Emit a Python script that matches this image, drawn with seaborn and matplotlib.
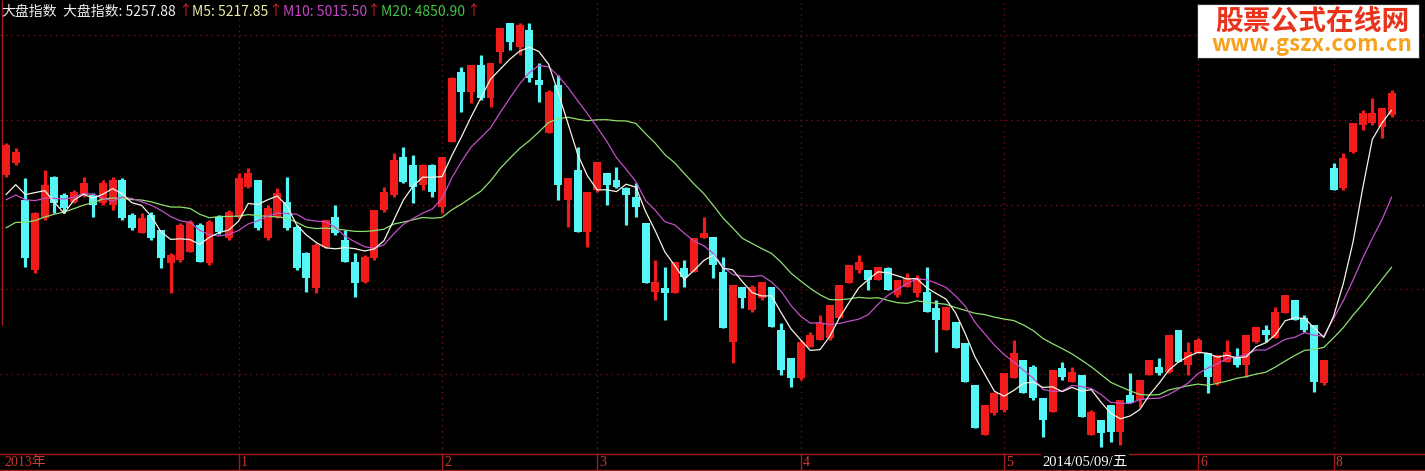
import numpy as np
import pandas as pd
import matplotlib
matplotlib.use("Agg")
import matplotlib.pyplot as plt
from matplotlib.patches import Rectangle
import seaborn as sns

# ---------------- data (index points) ----------------
open_ = [5062.5, 5092.5, 5000, 4825, 4955, 5057.5, 5012.5, 4995, 5012.5, 5012.5,
         4992.5, 4987.5, 5050, 4962.5, 4917.5, 4962.5, 4925, 4842.5, 4850, 4870,
         4937.5, 4842.5, 4957.5, 4905, 4957.5, 5032.5, 5050, 4905, 4957.5, 4995,
         4932.5, 4867.5, 4780, 4882.5, 4957.5, 4900, 4845, 4795, 4855, 4975,
         5012.5, 5107.5, 5087.5, 5037.5, 5087.5, 4982.5, 5145, 5320, 5270, 5337.5,
         5255, 5370, 5442.5, 5382.5, 5425, 5300, 5167.5, 5287.5, 5000, 5075,
         4920, 5025, 5067.5, 5050, 5030, 5007.5, 4942.5, 4770, 4780, 4767.5,
         4830, 4820, 4905, 4907.5, 4820, 4645, 4782.5, 4725, 4755, 4782.5,
         4675, 4605, 4555, 4632.5, 4650, 4655, 4705, 4792.5, 4825, 4825,
         4800, 4830, 4762.5, 4782.5, 4767.5, 4770, 4730, 4675, 4695, 4642.5,
         4537.5, 4412.5, 4467.5, 4475, 4555, 4600, 4582.5, 4505, 4470, 4580,
         4545, 4562.5, 4412.5, 4450, 4487.5, 4420, 4512.5, 4500, 4562.5, 4582.5,
         4570, 4675, 4587.5, 4617.5, 4617.5, 4542.5, 4595, 4605, 4587.5, 4645,
         4675, 4655, 4717.5, 4750, 4705, 4687.5, 4542.5, 5080, 5030, 5120,
         5187.5, 5192.5, 5182.5, 5212.5]

close = [5137.5, 5120, 4855, 4967.5, 5037.5, 4992.5, 4980, 5020, 5042.5, 4987.5,
         5042.5, 5050, 4955, 4930, 4955, 4905, 4855, 4862.5, 4937.5, 4945,
         4845, 4945, 4920, 4970, 5055, 5067.5, 4930, 4980, 5017.5, 4930,
         4830, 4805, 4887.5, 4950, 4917.5, 4845, 4792.5, 4857.5, 4975, 5020,
         5100, 5045, 5032.5, 5087.5, 5020, 5107.5, 5305, 5270, 5337.5, 5255,
         5342.5, 5430, 5395, 5437.5, 5305, 5287.5, 5270, 5037.5, 5055, 4920,
         5020, 5095, 5037.5, 5032.5, 5012.5, 4982.5, 4792.5, 4795, 4767.5, 4845,
         4807.5, 4905, 4917.5, 4837.5, 4680, 4787.5, 4755, 4782.5, 4795, 4682.5,
         4575, 4555, 4645, 4662.5, 4692.5, 4737.5, 4787.5, 4837.5, 4845, 4800,
         4832.5, 4775, 4800, 4805, 4805, 4720, 4700, 4732.5, 4630, 4545,
         4430, 4487.5, 4517.5, 4567.5, 4617.5, 4517.5, 4505, 4450, 4575, 4557.5,
         4570, 4457.5, 4470, 4417.5, 4420, 4500, 4492.5, 4550, 4600, 4567.5,
         4662.5, 4595, 4620, 4650, 4557.5, 4612.5, 4620, 4587.5, 4662.5, 4682.5,
         4662.5, 4720, 4762.5, 4700, 4675, 4545, 4600, 5025, 5105, 5192.5,
         5217.5, 5217.5, 5230, 5267.5]

high = [5142.5, 5130, 5055, 4970, 5075, 5060, 5017.5, 5025, 5057.5, 5017.5,
        5050, 5057.5, 5055, 4967.5, 4967.5, 4970, 4925, 4867.5, 4942.5, 4950,
        4942.5, 4950, 4962.5, 4975, 5067.5, 5080, 5050, 4987.5, 5030, 5057.5,
        4937.5, 4870, 4892.5, 4950, 4987.5, 4925, 4867.5, 4862.5, 4975, 5032.5,
        5117.5, 5132.5, 5112.5, 5090, 5090, 5107.5, 5307.5, 5332.5, 5337.5, 5362.5,
        5342.5, 5430, 5442.5, 5442.5, 5442.5, 5342.5, 5275, 5312.5, 5055, 5132.5,
        5020, 5095, 5067.5, 5082.5, 5032.5, 5042.5, 4942.5, 4850, 4832.5, 4845,
        4850, 4905, 4957.5, 4907.5, 4857.5, 4787.5, 4782.5, 4787.5, 4795, 4782.5,
        4692.5, 4605, 4650, 4670, 4712.5, 4737.5, 4787.5, 4837.5, 4862.5, 4825,
        4832.5, 4832.5, 4800, 4817.5, 4812.5, 4832.5, 4750, 4732.5, 4695, 4642.5,
        4537.5, 4487.5, 4520, 4567.5, 4650, 4600, 4587.5, 4505, 4575, 4595,
        4582.5, 4562.5, 4475, 4450, 4487.5, 4500, 4567.5, 4550, 4600, 4605,
        4662.5, 4675, 4645, 4655, 4617.5, 4612.5, 4650, 4630, 4662.5, 4682.5,
        4687.5, 4732.5, 4762.5, 4750, 4712.5, 4687.5, 4600, 5092.5, 5117.5, 5192.5,
        5225, 5255, 5230, 5275]

low = [5057.5, 5087.5, 4832.5, 4817.5, 4950, 4967.5, 4967.5, 4992.5, 5007.5, 4957.5,
       4987.5, 4975, 4950, 4925, 4917.5, 4900, 4830, 4767.5, 4845, 4870,
       4845, 4837.5, 4915, 4900, 4955, 5030, 4925, 4900, 4955, 4925,
       4825, 4770, 4767.5, 4880, 4912.5, 4845, 4757.5, 4792.5, 4850, 4970,
       5007.5, 5042.5, 4992.5, 5025, 5007.5, 4967.5, 5145, 5220, 5242.5, 5250,
       5232.5, 5342.5, 5375, 5362.5, 5295, 5245, 5167.5, 5000, 4932.5, 4920,
       4882.5, 5020, 4987.5, 5030, 4937.5, 4957.5, 4792.5, 4750, 4700, 4767.5,
       4782.5, 4820, 4905, 4805, 4680, 4592.5, 4730, 4720, 4750, 4682.5,
       4562.5, 4532.5, 4550, 4632.5, 4650, 4650, 4705, 4792.5, 4817.5, 4775,
       4800, 4775, 4757.5, 4782.5, 4757.5, 4720, 4620, 4675, 4630, 4545,
       4430, 4412.5, 4462.5, 4470, 4555, 4517.5, 4500, 4407.5, 4470, 4550,
       4545, 4457.5, 4412.5, 4382.5, 4395, 4387.5, 4492.5, 4482.5, 4562.5, 4562.5,
       4567.5, 4595, 4562.5, 4617.5, 4517.5, 4537.5, 4595, 4582.5, 4557.5, 4642.5,
       4645, 4655, 4717.5, 4700, 4670, 4520, 4537.5, 5025, 5025, 5117.5,
       5175, 5187.5, 5155, 5207.5]

# closes before the first visible bar (feed the moving averages)
prior_close = [4845, 4855, 4875, 4862.5, 4850, 4870, 4855, 4865, 4860, 4862.5,
               5000, 4975, 4987.5, 4980, 4995, 4995, 4980, 4942.5, 5012.5]

month_labels = ["2013年", "1", "2", "3", "4", "5", "6", "8"]
month_starts = [0, 24, 45, 61, 82, 103, 123, 137]
cursor_label = "2014/05/09/五"
cursor_bar = 107
header_items = [("大盘指数", "w"), ("大盘指数: 5257.88", "w"), ("↑", "r"),
                ("M5: 5217.85", "m5"), ("↑", "r"), ("M10: 5015.50", "m10"), ("↑", "r"),
                ("M20: 4850.90", "m20"), ("↑", "r")]
watermark_title = "股票公式在线网"
watermark_url = "www.gszx.com.cn"

# ---------------- style ----------------
sns.set_theme(style="dark")
plt.rcParams['font.family'] = ['Noto Sans CJK SC', 'DejaVu Sans']
plt.rcParams['axes.unicode_minus'] = False

RED = "#f01c1c"
CYAN = "#54f6f6"
GRID = "#7a1414"
AXIS = "#a01c1c"
LABEL = "#c83a30"
COL = {"w": "#f0f0f0", "r": "#e02020", "m5": "#ececa8", "m10": "#c844c8", "m20": "#44c444"}

W, H = 1425, 471
STEP = 9.69           # pixels per bar
X0 = -0.62            # data x at the left edge
Y_TOP, Y_PER_PX = 5500.0, 2.5


def px_x(px):
    return X0 + px / STEP


def px_y(py):
    return Y_TOP - Y_PER_PX * py


fig = plt.figure(figsize=(W / 100, H / 100), dpi=100, facecolor="black")
ax = fig.add_axes([0, 0, 1, 1])
ax.set_facecolor("black")

n = min(len(open_), len(close), len(high), len(low))
o = np.array(open_[:n], float)
c = np.array(close[:n], float)
h = np.array(high[:n], float)
l = np.array(low[:n], float)
idx = np.arange(n)

# moving averages
allc = pd.Series(list(prior_close) + list(c))
df = pd.DataFrame({
    "i": idx,
    "MA5": allc.rolling(5, min_periods=1).mean().to_numpy()[-n:],
    "MA10": allc.rolling(10, min_periods=1).mean().to_numpy()[-n:],
    "MA20": allc.rolling(20, min_periods=1).mean().to_numpy()[-n:],
})

# grid (dotted)
for gy in [35, 120, 205, 289, 374]:
    ax.axhline(px_y(gy), color=GRID, lw=1.0, ls=(0, (1, 3)), zorder=1)
ax.vlines(month_starts[1:], px_y(454), px_y(0), colors=GRID, lw=1.0,
          linestyles=(0, (1, 3)), zorder=1)

# candles
up = c >= o
colors = np.where(up, RED, CYAN)
ax.vlines(idx, l, h, colors=colors, lw=2.3, zorder=3)
body_bottom = np.minimum(o, c)
body_h = np.maximum(np.abs(c - o), 3.5)
ax.bar(idx, body_h, bottom=body_bottom, width=0.82, color=colors, linewidth=0, zorder=4)

# MA lines
sns.lineplot(data=df, x="i", y="MA20", ax=ax, color="#8ee070", lw=0.9, zorder=5, legend=False)
sns.lineplot(data=df, x="i", y="MA10", ax=ax, color="#c050c8", lw=0.9, zorder=5, legend=False)
sns.lineplot(data=df, x="i", y="MA5", ax=ax, color="#f4f4e4", lw=0.9, zorder=6, legend=False)

# axis band
ax.axhline(px_y(454), color=AXIS, lw=1.0, zorder=2)
ax.axhline(px_y(470), color=AXIS, lw=1.0, zorder=2)
ax.vlines(month_starts[1:], px_y(470), px_y(454), colors=AXIS, lw=1.0, zorder=2)
ax.vlines([px_x(1.5)], px_y(325), px_y(0), colors=AXIS, lw=1.0, zorder=2)
for lab, ms in zip(month_labels, month_starts):
    xx = ms + 0.25 if ms > 0 else px_x(4)
    ax.text(xx, px_y(462.5), lab, color=LABEL, fontsize=10, ha="left", va="center",
            family=["Liberation Serif", "Noto Sans CJK SC"], zorder=7)

ax.text(cursor_bar - 0.03, px_y(462), cursor_label, color="white", fontsize=10.5,
        ha="left", va="center", family=["Liberation Serif", "Noto Sans CJK SC"], zorder=8,
        bbox=dict(boxstyle="square,pad=0.1", fc="black", ec="none"))

ax.set_xlim(X0, X0 + W / STEP)
ax.set_ylim(px_y(H), px_y(0))
ax.set_axis_off()

# header
xpos = [1, 63, 178, 192, 268, 283, 366, 381, 466]
for (txt, ck), xp in zip(header_items, xpos):
    fig.text(xp / W, 1 - 11.5 / H, txt, color=COL[ck], fontsize=10, ha="left", va="center")

# watermark box
fig.patches.append(Rectangle((1197 / W, 1 - 58 / H), 222 / W, 54 / H, transform=fig.transFigure,
                             facecolor="white", edgecolor="#303030", lw=0.8, zorder=10))
fig.text(1312 / W, 1 - 21 / H, watermark_title, color="#e8341c", fontsize=20, fontweight="bold",
         ha="center", va="center", zorder=11)
fig.text(1312 / W, 1 - 44 / H, watermark_url, color="#f5a21e", fontsize=16, fontweight="bold",
         ha="center", va="center", zorder=11)

fig.savefig("out.png", dpi=100, facecolor="black")
